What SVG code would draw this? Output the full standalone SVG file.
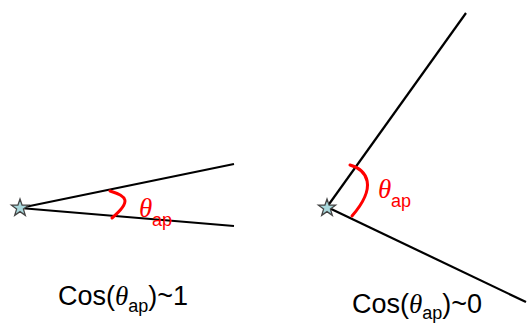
<svg xmlns="http://www.w3.org/2000/svg" width="528" height="323" viewBox="0 0 528 323">
<style>
.ln{stroke:#000;stroke-width:2.2;fill:none}
.arc{stroke:#ff0000;stroke-width:3;fill:none;stroke-linecap:round}
.star{fill:#a9d8dc;stroke:#444;stroke-width:1.3}
.th{font-family:"Liberation Serif",serif;font-style:italic;fill:#ff0000}
.sub{font-family:"Liberation Sans",sans-serif;fill:#ff0000}
.cap{font-family:"Liberation Sans",sans-serif;fill:#000;font-size:27px}
</style>
<defs>
<polygon id="star" class="star" points="0,-9 2.1,-2.9 8.6,-2.8 3.4,1.1 5.3,7.3 0,3.6 -5.3,7.3 -3.4,1.1 -8.6,-2.8 -2.1,-2.9"/>
</defs>
<g id="connectors">
<line class="ln" x1="20" y1="208" x2="234" y2="164"/>
<line class="ln" x1="20" y1="208" x2="234" y2="226"/>
<line class="ln" x1="327" y1="207" x2="466" y2="13"/>
<line class="ln" x1="327" y1="207" x2="526" y2="302"/>
</g>
<g id="left">
<use href="#star" x="20" y="208"/>
<path class="arc" d="M110,191 C127,196 132,201 112,218"/>
<text class="th" x="139" y="217" font-size="27">θ</text>
<text class="sub" x="152" y="226" font-size="18">ap</text>
<text class="cap" x="58" y="305">Cos(<tspan font-family="Liberation Serif" font-style="italic">θ</tspan><tspan font-size="18" dy="7">ap</tspan><tspan dy="-7">)~1</tspan></text>
</g>
<g id="right">
<use href="#star" x="327" y="208"/>
<path class="arc" d="M350,165 C367,170 378,186 352,216"/>
<text class="th" x="378" y="198" font-size="27">θ</text>
<text class="sub" x="391" y="207" font-size="18">ap</text>
<text class="cap" x="352" y="313">Cos(<tspan font-family="Liberation Serif" font-style="italic">θ</tspan><tspan font-size="18" dy="6">ap</tspan><tspan dy="-6">)~0</tspan></text>
</g>
</svg>
